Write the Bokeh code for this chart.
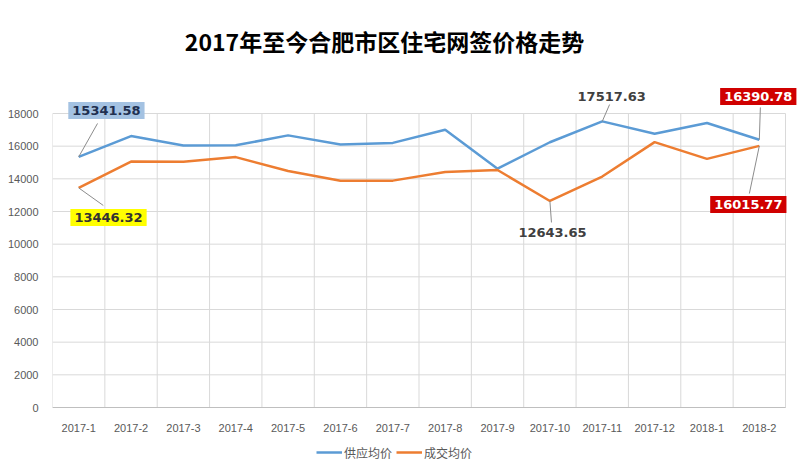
from bokeh.plotting import figure
from bokeh.models import (Range1d, FixedTicker, Label, Arrow, Legend, LegendItem,
                          ColumnDataSource)
from bokeh.embed import file_html
from bokeh.resources import INLINE

months = ["2017-1", "2017-2", "2017-3", "2017-4", "2017-5", "2017-6", "2017-7",
          "2017-8", "2017-9", "2017-10", "2017-11", "2017-12", "2018-1", "2018-2"]
supply = [15341.58, 16620, 16040, 16050, 16660, 16100, 16200,
          17000, 14620, 16240, 17517.63, 16760, 17420, 16390.78]
deal = [13446.32, 15060, 15040, 15330, 14480, 13880, 13890,
        14420, 14540, 12643.65, 14140, 16250, 15220, 16015.77]
y_ticks = [0, 2000, 4000, 6000, 8000, 10000, 12000, 14000, 16000, 18000]
title_text = "2017年至今合肥市区住宅网签价格走势"
series_names = ["供应均价", "成交均价"]

BLUE = "#5b9bd5"
ORANGE = "#ed7d31"
FONT_CJK = "Noto Sans CJK SC"
GRID = "#d9d9d9"

n = len(months)
xs = list(range(n))
src = ColumnDataSource(dict(x=xs, supply=supply, deal=deal))

# frame: x 52..800 px, y 10..470 px; value 0 at 407 px, 18000 at 113 px
band_px = (785 - 52) / n
per_px = y_ticks[-1] / 294
y_top = per_px * (407 - 10)
y_bottom = -per_px * (470 - 407)
x_end = n - 0.5 + 15 / band_px

p = figure(width=800, height=470, output_backend="svg", toolbar_location=None,
           x_range=Range1d(-0.5, x_end), y_range=Range1d(y_bottom, y_top),
           min_border_left=52, min_border_right=0, min_border_top=10, min_border_bottom=0)
p.outline_line_color = None
p.background_fill_color = "white"
p.border_fill_color = "white"

# axes
p.xaxis.fixed_location = 0
p.xaxis.ticker = FixedTicker(ticks=xs)
p.xaxis.bounds = (-0.5, n - 0.5)
p.xaxis.major_label_overrides = {i: m for i, m in enumerate(months)}
p.xaxis.major_tick_line_color = None
p.xaxis.minor_tick_line_color = None
p.xaxis.axis_line_color = "#bfbfbf"
p.xaxis.major_label_text_color = "#595959"
p.xaxis.major_label_text_font = "Liberation Sans"
p.xaxis.major_label_text_font_size = "11px"
p.xaxis.major_label_standoff = 10

p.yaxis.ticker = FixedTicker(ticks=y_ticks)
p.yaxis.major_tick_line_color = None
p.yaxis.minor_tick_line_color = None
p.yaxis.axis_line_color = None
p.yaxis.major_label_text_color = "#595959"
p.yaxis.major_label_text_font = "Liberation Sans"
p.yaxis.major_label_text_font_size = "11px"
p.yaxis.major_label_standoff = 8

bounds_x = [i - 0.5 for i in range(n + 1)]
p.xgrid.grid_line_color = None
p.ygrid.grid_line_color = None
p.segment(x0=bounds_x, x1=bounds_x, y0=[y_ticks[0]] * len(bounds_x),
          y1=[y_ticks[-1]] * len(bounds_x), line_color=GRID, line_width=1)
p.segment(x0=[-0.5] * len(y_ticks), x1=[n - 0.5] * len(y_ticks), y0=y_ticks,
          y1=y_ticks, line_color=GRID, line_width=1)

r1 = p.line("x", "supply", source=src, line_color=BLUE, line_width=2.5)
r2 = p.line("x", "deal", source=src, line_color=ORANGE, line_width=2.5)

legend = Legend(items=[LegendItem(label=series_names[0], renderers=[r1]),
                       LegendItem(label=series_names[1], renderers=[r2])],
                orientation="horizontal", location=(264, 8),
                label_text_font=FONT_CJK, label_text_font_size="12px",
                label_text_color="#595959", glyph_width=26, label_standoff=2,
                spacing=4, padding=2, margin=0, border_line_color=None,
                background_fill_alpha=0)
p.add_layout(legend, "center")

# title
p.add_layout(Label(x=(384 - 52) / band_px - 0.5, y=per_px * (407 - 40),
                   text=title_text, text_align="center",
                   text_baseline="middle", text_font=FONT_CJK, text_font_style="bold",
                   text_font_size="23px", text_color="#000000"))

# data labels: (series, index, label x, label y, bg, text color, leader end x, leader end y)
label_specs = [
    (supply, 0, 0.53, 18180, "#a4c2e2", "#1f3050", 0.36, 17390),
    (deal, 0, 0.57, 11630, "#ffff00", "#333333", 0.47, 12370),
    (supply, 10, 10.18, 19040, None, "#404040", 10.14, 18550),
    (deal, 9, 9.05, 10710, None, "#404040", 9.03, 11330),
    (supply, 13, 12.98, 19040, "#d00000", "#ffffff", 13.02, 18370),
    (deal, 13, 12.79, 12430, "#d00000", "#ffffff", 12.81, 13100),
]
for series, idx, lx, ly, bg, tc, ex, ey in label_specs:
    p.add_layout(Arrow(end=None, x_start=idx, y_start=series[idx], x_end=ex, y_end=ey,
                       line_color="#8c8c8c", line_width=1))
    kw = dict(x=lx, y=ly, text=f"{series[idx]:.2f}", text_align="center",
              text_baseline="middle", text_font="DejaVu Sans", text_font_style="bold",
              text_font_size="13px", text_color=tc)
    if bg:
        kw.update(background_fill_color=bg, padding=4)
    p.add_layout(Label(**kw))

open("out.html", "w").write(file_html(p, INLINE))
